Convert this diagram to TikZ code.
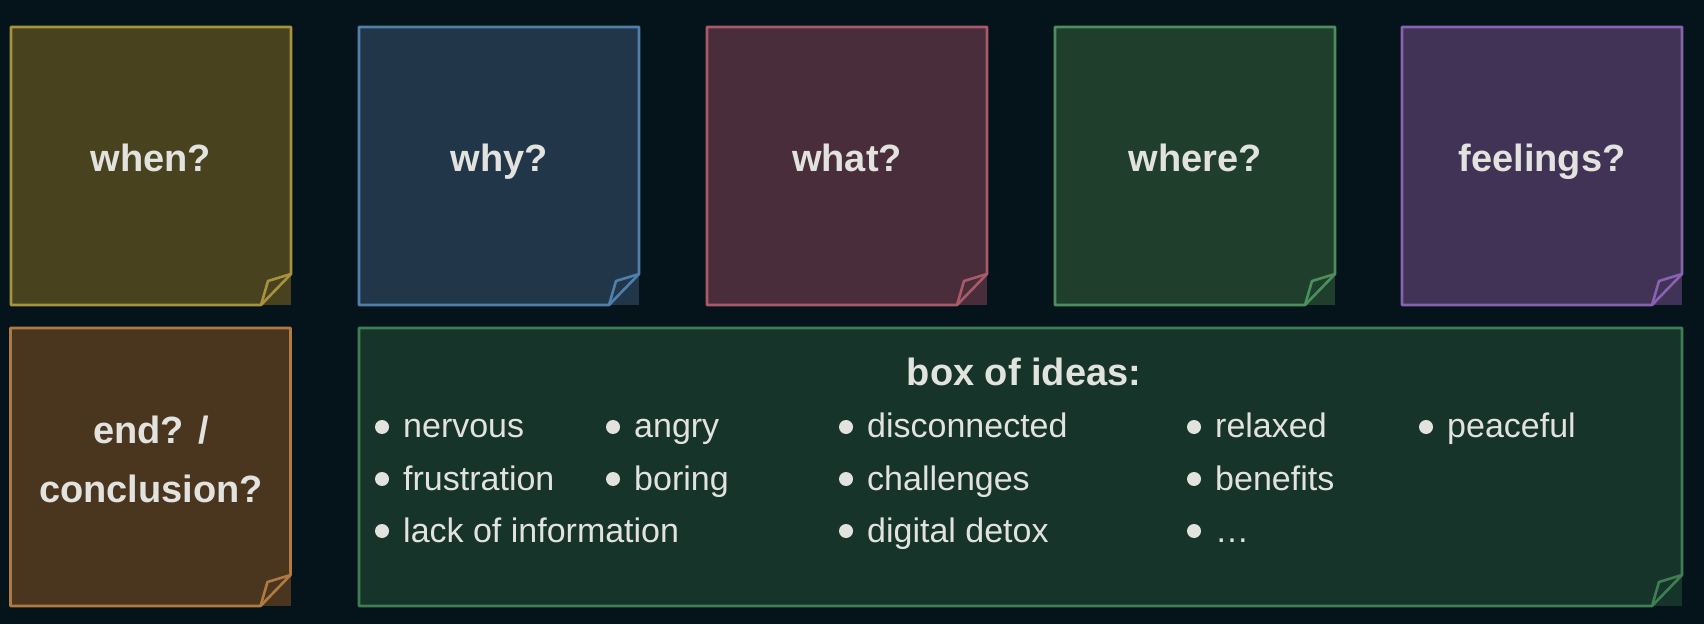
\documentclass[tikz,border=0pt]{standalone}
\usepackage{fontspec}
\setmainfont{Liberation Sans}
\usepackage{tikz}

\definecolor{bg}{HTML}{04141A}
\definecolor{ink}{HTML}{E2E2DE}
\definecolor{whenfill}{HTML}{48421F}
\definecolor{whenline}{HTML}{A8923E}
\definecolor{whyfill}{HTML}{213749}
\definecolor{whyline}{HTML}{4F7FAA}
\definecolor{whatfill}{HTML}{4A2D3A}
\definecolor{whatline}{HTML}{A85A6A}
\definecolor{wherefill}{HTML}{1F3F2C}
\definecolor{whereline}{HTML}{4C8E5E}
\definecolor{feelfill}{HTML}{403355}
\definecolor{feelline}{HTML}{8862B0}
\definecolor{endfill}{HTML}{4A361F}
\definecolor{endline}{HTML}{B07A42}
\definecolor{ideafill}{HTML}{17342A}
\definecolor{idealine}{HTML}{3E7E50}

\tikzset{
  note/.style={rectangle, minimum width=280pt, minimum height=278pt, inner sep=0pt, outer sep=0pt, fill=#1},
  noteline/.style={draw=#1, line width=2.6pt, line join=round},
  title/.style={anchor=base, inner sep=0pt, text=ink, font=\bfseries\fontsize{38}{46}\selectfont},
  idea/.style={anchor=base west, inner sep=0pt, text=ink, font=\fontsize{34}{40}\selectfont}
}

% border of a sticky note with its folded corner
\newcommand{\notepath}[2]{%
  \draw[noteline=#2] ([yshift=31pt]#1.south east) -- (#1.north east) -- (#1.north west)
    -- (#1.south west) -- ([xshift=-30pt]#1.south east) -- cycle;
  \draw[noteline=#2] ([xshift=-30pt]#1.south east) -- ([shift={(-23,24)}]#1.south east)
    -- ([yshift=31pt]#1.south east);
}

\begin{document}
\begin{tikzpicture}[x=1pt,y=1pt]
\fill[bg] (0,0) rectangle (1704,624);
\useasboundingbox (0,0) rectangle (1704,624);

% top row of questions
\foreach \name/\txt/\x/\fillc/\linec in {when/when?/151/whenfill/whenline,
    why/why?/499/whyfill/whyline, what/what?/847/whatfill/whatline,
    where/where?/1195/wherefill/whereline, feel/feelings?/1542/feelfill/feelline}{
  \node[note=\fillc] (\name) at (\x,458) {};
  \notepath{\name}{\linec}
  \node[title] (\name-t) at (\x,452) {\txt};
}

% end note
\node[note=endfill] (end) at (150.5,157) {};
\notepath{end}{endline}
\node[title] (end-a) at (151,180) {end? /};
\node[title] (end-b) at (151,122) {conclusion?};

% box of ideas
\node[note=ideafill, minimum width=1323pt] (ideas) at (1020.5,157) {};
\notepath{ideas}{idealine}
\node[title] (ideas-t) at (1024,238) {box of ideas:};

\foreach \x/\y/\word in {403/186/nervous, 403/134/frustration, 403/82/lack of information,
    634/186/angry, 634/134/boring,
    867/186/disconnected, 867/134/challenges, 867/82/digital detox,
    1215/186/relaxed, 1215/134/benefits, 1215/82/…,
    1447/186/peaceful}{
  \node[idea] (w-\x-\y) at (\x,\y) {\word};
  \fill[ink] ([shift={(-21,11)}]w-\x-\y.base west) circle (7pt);
}
\end{tikzpicture}
\end{document}
